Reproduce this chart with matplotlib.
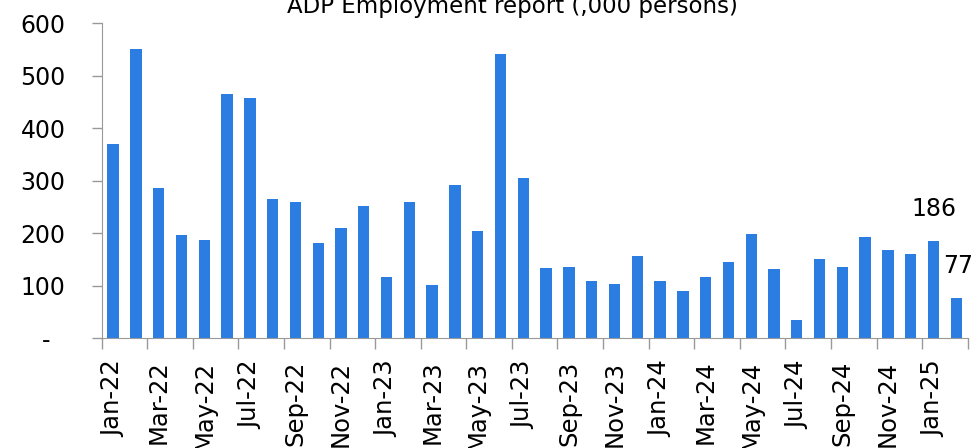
import matplotlib
matplotlib.use("Agg")
import matplotlib.pyplot as plt
from matplotlib.ticker import FixedLocator, NullFormatter

plt.rcParams['font.family'] = ['DejaVu Sans']

months = ['Jan-22', 'Feb-22', 'Mar-22', 'Apr-22', 'May-22', 'Jun-22', 'Jul-22', 'Aug-22',
          'Sep-22', 'Oct-22', 'Nov-22', 'Dec-22', 'Jan-23', 'Feb-23', 'Mar-23', 'Apr-23',
          'May-23', 'Jun-23', 'Jul-23', 'Aug-23', 'Sep-23', 'Oct-23', 'Nov-23', 'Dec-23',
          'Jan-24', 'Feb-24', 'Mar-24', 'Apr-24', 'May-24', 'Jun-24', 'Jul-24', 'Aug-24',
          'Sep-24', 'Oct-24', 'Nov-24', 'Dec-24', 'Jan-25', 'Feb-25']
jobs = [370, 551, 286, 197, 187, 465, 458, 265,
        260, 181, 210, 252, 117, 260, 102, 292,
        204, 542, 305, 134, 136, 109, 104, 157,
        109, 90, 117, 145, 199, 132, 35, 151,
        136, 192, 168, 160, 186, 77]
y_ticks = [0, 100, 200, 300, 400, 500, 600]
y_labels = ['-  ', '100', '200', '300', '400', '500', '600']

fig = plt.figure(figsize=(9.76, 4.48), dpi=100)
ax = fig.add_axes([0.1042, 0.2449, 0.8873, 0.7031])

x = list(range(len(jobs)))
ax.bar(x, jobs, width=0.5, color='#2b7de1')

ax.set_xlim(-0.5, len(jobs) - 0.5)
ax.set_ylim(0, 600)

# ticks sit between bars, labels under every other bar
ax.xaxis.set_major_locator(FixedLocator([i - 0.5 for i in range(0, len(jobs), 2)] + [len(jobs) - 0.5]))
ax.xaxis.set_major_formatter(NullFormatter())
ax.xaxis.set_minor_locator(FixedLocator(x[::2]))
ax.set_xticklabels(months[::2], minor=True, rotation=90, fontsize=17.5)
ax.tick_params(axis='x', which='major', length=8, color='#999999', width=1)
ax.tick_params(axis='x', which='minor', length=0, pad=16)

ax.set_yticks(y_ticks)
ax.set_yticklabels(y_labels, fontsize=17)
ax.tick_params(axis='y', length=7, color='#999999', width=1, pad=19)

for s in ['top', 'right']:
    ax.spines[s].set_visible(False)
for s in ['left', 'bottom']:
    ax.spines[s].set_color('#999999')

# last two values labelled
for i in [len(jobs) - 2, len(jobs) - 1]:
    ax.annotate(str(jobs[i]), (x[i], jobs[i]), xytext=(0 if i == len(jobs) - 2 else 1, 14),
                textcoords='offset points', ha='center', va='bottom', fontsize=17)

fig.text(0.525, 0.971, "ADP Employment report (,000 persons)", ha='center', va='baseline', fontsize=16.5)

fig.savefig('out.png', dpi=100)
